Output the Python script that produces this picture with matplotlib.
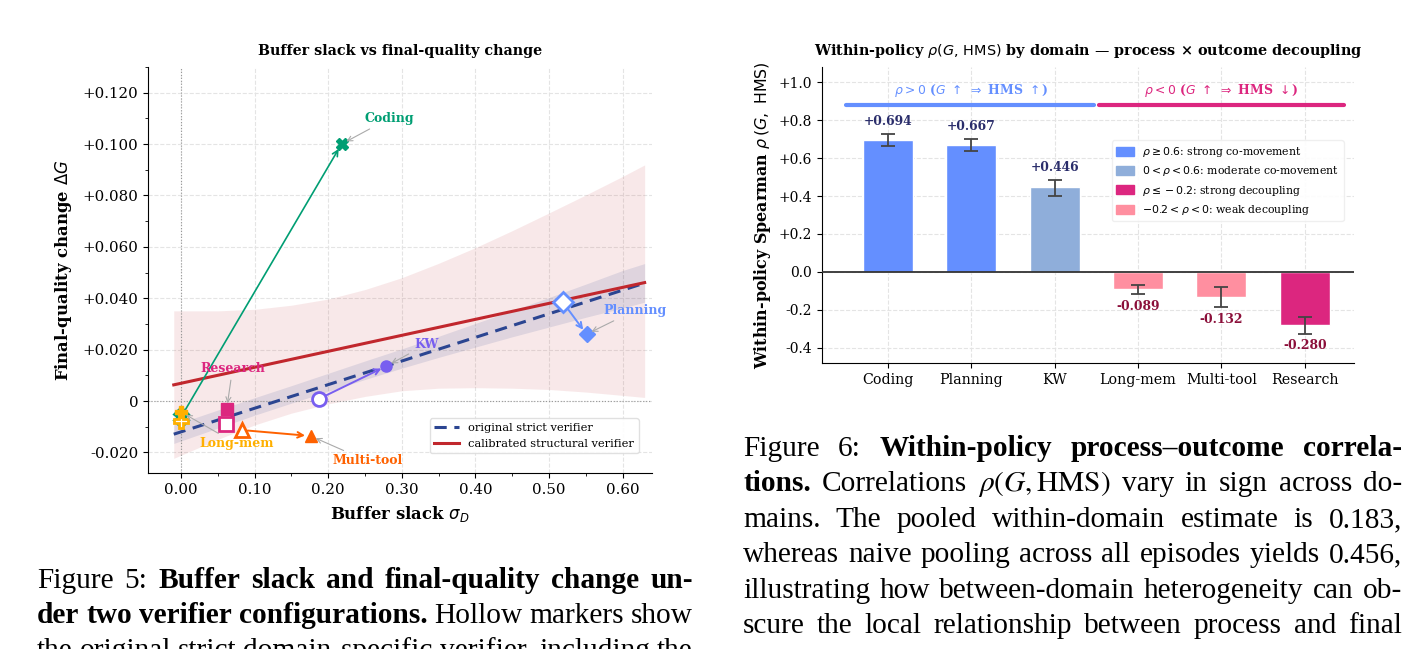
import numpy as np
import matplotlib
matplotlib.use("Agg")
import matplotlib.pyplot as plt
from matplotlib.ticker import MultipleLocator, FuncFormatter
from matplotlib.patches import Patch

plt.rcParams['font.family'] = ['DejaVu Serif']

# ---------------- left chart data ----------------
domains = ['Coding', 'Planning', 'KW', 'Research', 'Long-mem', 'Multi-tool']
dom_colors = ['#009E73', '#648FFF', '#785EF0', '#DC267F', '#FFB000', '#FE6100']
dom_markers = ['X', 'D', 'o', 's', 'P', '^']
sigma_orig = [0.000, 0.519, 0.187, 0.061, 0.000, 0.083]
dG_orig = [-0.0062, 0.0384, 0.0008, -0.0090, -0.0078, -0.0113]
sigma_cal = [0.218, 0.551, 0.279, 0.062, 0.000, 0.176]
dG_cal = [0.1000, 0.0260, 0.0136, -0.0030, -0.0043, -0.0136]
label_x = [0.283, 0.617, 0.333, 0.070, 0.076, 0.253]
label_y = [0.1100, 0.0353, 0.0220, 0.0128, -0.0167, -0.0233]

# fitted lines (end points)
line_x = [-0.01, 0.63]
strict_y = [-0.0129, 0.0459]
calib_y = [0.0063, 0.0461]

# confidence bands
band_x = [-0.01, 0.05, 0.10, 0.15, 0.20, 0.25, 0.30, 0.35, 0.40, 0.45, 0.50, 0.55, 0.60, 0.63]
calib_lo = [-0.0223, -0.0149, -0.0093, -0.0047, -0.0011, 0.0018, 0.0040, 0.0050, 0.0052, 0.0050,
            0.0045, 0.0035, 0.0022, 0.0014]
calib_hi = [0.0351, 0.0351, 0.0357, 0.0373, 0.0397, 0.0434, 0.0480, 0.0536, 0.0597, 0.0663,
            0.0732, 0.0802, 0.0874, 0.0919]
strict_lo = [-0.0165, -0.0105, -0.0055, -0.0008, 0.0038, 0.0084, 0.0128, 0.0170, 0.0210, 0.0250,
             0.0288, 0.0326, 0.0362, 0.0385]
strict_hi = [-0.0093, -0.0035, 0.0013, 0.0060, 0.0108, 0.0156, 0.0203, 0.0252, 0.0302, 0.0352,
             0.0403, 0.0455, 0.0508, 0.0535]

# ---------------- right chart data ----------------
bar_names = ['Coding', 'Planning', 'KW', 'Long-mem', 'Multi-tool', 'Research']
rho = [0.694, 0.667, 0.446, -0.089, -0.132, -0.280]
rho_lo = [0.663, 0.637, 0.400, -0.116, -0.184, -0.326]
rho_hi = [0.726, 0.700, 0.484, -0.068, -0.079, -0.237]
cat_colors = {'strong_pos': '#648FFF', 'mod_pos': '#8FAEDA',
              'strong_neg': '#DC267F', 'weak_neg': '#FF8FA0'}
cat_labels = [r'$\rho \geq 0.6$: strong co-movement',
              r'$0 < \rho < 0.6$: moderate co-movement',
              r'$\rho \leq -0.2$: strong decoupling',
              r'$-0.2 < \rho < 0$: weak decoupling']


def bar_color(r):
    if r >= 0.6:
        return cat_colors['strong_pos']
    if r > 0:
        return cat_colors['mod_pos']
    if r <= -0.2:
        return cat_colors['strong_neg']
    return cat_colors['weak_neg']


W, H = 1417, 649
fig = plt.figure(figsize=(W / 100, H / 100), dpi=100)

# ================= left axes =================
ax = fig.add_axes([148 / W, 1 - 473 / H, (652 - 148) / W, (473 - 67) / H])
ax.fill_between(band_x, calib_lo, calib_hi, color='#c1272d', alpha=0.10, lw=0, zorder=1)
ax.fill_between(band_x, strict_lo, strict_hi, color='#2b4591', alpha=0.12, lw=0, zorder=1)
ax.plot(line_x, strict_y, color='#2b4591', lw=2.2, ls=(0, (4, 2.5)), zorder=3,
        label='original strict verifier')
ax.plot(line_x, calib_y, color='#c1272d', lw=2.2, zorder=3, label='calibrated structural verifier')
ax.axhline(0, color='#999999', lw=0.8, ls=':', zorder=2)
ax.axvline(0, color='#999999', lw=0.8, ls=':', zorder=2)

for i, d in enumerate(domains):
    c = dom_colors[i]
    m = dom_markers[i]
    # hollow = original, filled = calibrated
    ax.plot(sigma_orig[i], dG_orig[i], marker=m, ms=10, mfc='white', mec=c, mew=2,
            ls='none', zorder=5 if d != 'Coding' else 4)
    ax.plot(sigma_cal[i], dG_cal[i], marker=m, ms=8, color=c, ls='none', zorder=6)
    p0 = ax.transData.transform((sigma_orig[i], dG_orig[i]))
    p1 = ax.transData.transform((sigma_cal[i], dG_cal[i]))
    if np.hypot(*(p1 - p0)) > 25:
        ax.annotate('', xy=(sigma_cal[i], dG_cal[i]), xytext=(sigma_orig[i], dG_orig[i]),
                    arrowprops=dict(arrowstyle='->', color=c, lw=1.4 if d != 'Coding' else 1.2,
                                    shrinkA=4, shrinkB=4), zorder=4)
    ax.annotate(d, xy=(sigma_cal[i], dG_cal[i]), xytext=(label_x[i], label_y[i]),
                ha='center', va='center', fontsize=9, fontweight='bold', color=c,
                arrowprops=dict(arrowstyle='->', color='#aaaaaa', lw=0.8, shrinkB=4), zorder=7)

ax.set_xlim(-0.045, 0.64)
ax.set_ylim(-0.028, 0.13)
ax.xaxis.set_major_locator(MultipleLocator(0.1))
ax.xaxis.set_minor_locator(MultipleLocator(0.05))
ax.yaxis.set_major_locator(MultipleLocator(0.02))
ax.yaxis.set_minor_locator(MultipleLocator(0.01))
ax.xaxis.set_major_formatter(FuncFormatter(lambda v, p: f'{v:.2f}'))
ax.yaxis.set_major_formatter(FuncFormatter(lambda v, p: '0' if abs(v) < 1e-9 else f'{v:+.3f}'))
ax.tick_params(labelsize=10.8)
ax.grid(True, which='major', ls='--', color='#e4e4e4', lw=0.8, zorder=0)
ax.set_axisbelow(True)
for s in ['top', 'right']:
    ax.spines[s].set_visible(False)
ax.set_title('Buffer slack vs final-quality change', fontsize=10.3, fontweight='bold', pad=9)
ax.set_xlabel(r'Buffer slack $\sigma_D$', fontsize=11.9, fontweight='bold', labelpad=5)
ax.set_ylabel(r'Final-quality change $\Delta G$', fontsize=11.9, fontweight='bold', labelpad=6)
ax.legend(loc='lower right', bbox_to_anchor=(0.985, 0.035), fontsize=8.2, framealpha=0.9,
          edgecolor='#dddddd', handlelength=2.2)

# ================= right axes =================
bx = fig.add_axes([822 / W, 1 - 363 / H, (1354 - 822) / W, (363 - 67) / H])
xpos = np.arange(len(bar_names))
bx.bar(xpos, rho, width=0.6, color=[bar_color(r) for r in rho], edgecolor='white', lw=1, zorder=3)
yerr = [np.array(rho) - np.array(rho_lo), np.array(rho_hi) - np.array(rho)]
bx.errorbar(xpos, rho, yerr=yerr, fmt='none', ecolor='#444444', elinewidth=1.3, capsize=5,
            capthick=1.3, zorder=4)
bx.axhline(0, color='#333333', lw=1.3, zorder=5)
for i, r in enumerate(rho):
    if r > 0:
        bx.text(i, rho_hi[i] + 0.03, f'{r:+.3f}', ha='center', va='bottom', fontsize=8.9,
                fontweight='bold', color='#2a2d6b', zorder=6)
    else:
        bx.text(i, rho_lo[i] - 0.03, f'{r:.3f}', ha='center', va='top', fontsize=8.9,
                fontweight='bold', color='#8b0f3a', zorder=6)

bx.plot([-0.5, 2.47], [0.88, 0.88], color='#648FFF', lw=3, solid_capstyle='round', zorder=3)
bx.plot([2.53, 5.47], [0.88, 0.88], color='#DC267F', lw=3, solid_capstyle='round', zorder=3)
bx.text(1.0, 0.955, r'$\rho>0$ ($G$ $\uparrow$ $\Rightarrow$ HMS $\uparrow$)', ha='center',
        va='center', fontsize=8.9, fontweight='bold', color='#648FFF')
bx.text(4.0, 0.955, r'$\rho<0$ ($G$ $\uparrow$ $\Rightarrow$ HMS $\downarrow$)', ha='center',
        va='center', fontsize=8.9, fontweight='bold', color='#DC267F')

bx.set_xlim(-0.79, 5.59)
bx.set_ylim(-0.48, 1.08)
bx.set_xticks(xpos)
bx.set_xticklabels(bar_names, fontsize=10.3)
bx.yaxis.set_major_locator(MultipleLocator(0.2))
bx.yaxis.set_major_formatter(FuncFormatter(
    lambda v, p: '0.0' if abs(v) < 1e-9 else (f'{v:+.1f}' if v > 0 else f'{v:.1f}')))
bx.tick_params(axis='y', labelsize=10)
bx.grid(True, ls='--', color='#e4e4e4', lw=0.8, zorder=0)
bx.set_axisbelow(True)
for s in ['top', 'right']:
    bx.spines[s].set_visible(False)
bx.set_title(r'Within-policy $\rho(G,\,\mathrm{HMS})$ by domain — process × outcome decoupling',
             fontsize=10.4, fontweight='bold', pad=9)
bx.set_ylabel(r'Within-policy Spearman $\rho\,(G,\ \mathrm{HMS})$', fontsize=11.4,
              fontweight='bold', labelpad=4)
handles = [Patch(color=cat_colors[k]) for k in ['strong_pos', 'mod_pos', 'strong_neg', 'weak_neg']]
bx.legend(handles, cat_labels, loc='upper left', bbox_to_anchor=(0.535, 0.77), fontsize=7.8,
          framealpha=0.9, edgecolor='#eeeeee', handlelength=1.6, handleheight=0.9)

# ================= captions =================
cap5 = [
    [("Figure 5:", "normal"), ("Buffer slack and final-quality change un-", "bold")],
    [("der two verifier configurations.", "bold"), ("Hollow markers show", "normal")],
    [("the original strict domain-specific verifier, including the", "normal")],
]
cap6 = [
    [("Figure 6: ", "normal"), ("Within-policy process–outcome correla-", "bold")],
    [("tions.", "bold"), ("Correlations", "normal"), (r"$\rho(G,\mathrm{HMS})$", "math"),
     ("vary in sign across do-", "normal")],
    [("mains.  The pooled within-domain estimate is 0.183,", "normal")],
    [("whereas naive pooling across all episodes yields 0.456,", "normal")],
    [("illustrating how between-domain heterogeneity can ob-", "normal")],
    [("scure the local relationship between process and final", "normal")],
]
cap5_base = [588, 623, 658]
cap6_base = [456, 491, 527, 562, 598, 633]

renderer = fig.canvas.get_renderer()
CAP_SIZE = 21.2


def words_of(line):
    out = []
    for seg, wt in line:
        if wt == 'math':
            out.append((seg, 'normal'))
        else:
            out.extend((w, wt) for w in seg.split())
    return out


def draw_line(line, x0, x1, base):
    words = words_of(line)
    widths = []
    for w, wt in words:
        t = fig.text(0, 0, w, fontsize=CAP_SIZE, fontweight=wt, family='Liberation Serif',
                     math_fontfamily='stix')
        widths.append(t.get_window_extent(renderer).width)
        t.remove()
    gap = (x1 - x0 - sum(widths)) / max(len(words) - 1, 1)
    x = x0
    for (w, wt), wd in zip(words, widths):
        fig.text(x / W, 1 - base / H, w, fontsize=CAP_SIZE, fontweight=wt,
                 family='Liberation Serif', math_fontfamily='stix', va='baseline', ha='left')
        x += wd + gap


for line, b in zip(cap5, cap5_base):
    draw_line(line, 37, 693, b)
for line, b in zip(cap6, cap6_base):
    draw_line(line, 743, 1402, b)

fig.savefig('out.png', dpi=100)
